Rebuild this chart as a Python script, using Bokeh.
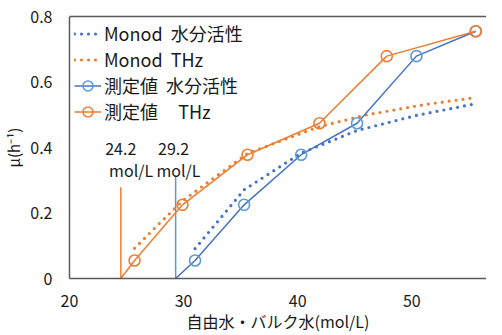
from bokeh.plotting import figure
from bokeh.models import (Range1d, FixedTicker, LinearAxis, Legend, LegendItem, Label)
from bokeh.embed import file_html
from bokeh.resources import INLINE

FONT = "Noto Sans CJK JP"
BLUE = "#4472C4"
BLUE_M = "#5B9BD5"
ORANGE = "#ED7D31"
NB = "\u00a0"

# measured values
thz_x = [25.7, 29.9, 35.6, 41.9, 47.8, 55.6]
aw_x = [31.0, 35.3, 40.3, 45.2, 50.4, 55.6]
mu_measured = [0.055, 0.225, 0.378, 0.474, 0.679, 0.755]

# Monod fits
monod_thz_x = [25.7, 27.7, 29.9, 35.6, 41.9, 46.1, 51.1, 55.5]
monod_thz_y = [0.092, 0.162, 0.237, 0.382, 0.464, 0.500, 0.531, 0.552]
monod_aw_x = [31.0, 33.2, 35.3, 40.3, 45.2, 50.4, 55.5]
monod_aw_y = [0.091, 0.183, 0.271, 0.383, 0.452, 0.498, 0.533]

# threshold lines
thr_thz = 24.5
thr_aw = 29.3
thr_thz_top = 0.279
thr_aw_top = 0.315
thr_labels = ["24.2", "29.2"]

x_ticks = [20, 30, 40, 50]
y_ticks = [0, 0.2, 0.4, 0.6, 0.8]
y_tick_labels = ["0", "0.2", "0.4", "0.6", "0.8"]

p = figure(width=486, height=335, output_backend="svg", toolbar_location=None,
           x_range=Range1d(20, 56.54), y_range=Range1d(0, 0.8),
           min_border_left=62, min_border_top=16, min_border_bottom=57, min_border_right=0)
p.outline_line_color = None
p.xgrid.visible = False
p.ygrid.visible = False

for ax in (p.xaxis[0], p.yaxis[0]):
    ax.axis_line_color = "#595959"
    ax.axis_line_width = 1.5
    ax.major_tick_out = 0
    ax.major_tick_in = 0
    ax.minor_tick_out = 0
    ax.minor_tick_in = 0
    ax.major_label_text_font = FONT
    ax.major_label_text_font_size = "16px"
    ax.major_label_text_color = "#1a1a1a"
    ax.axis_label_text_font = FONT
    ax.axis_label_text_font_style = "normal"
    ax.axis_label_text_color = "#1a1a1a"

p.xaxis[0].ticker = FixedTicker(ticks=x_ticks)
p.xaxis[0].major_label_standoff = 16
p.xaxis[0].axis_label = "自由水・バルク水(mol/L)"
p.xaxis[0].axis_label_text_font_size = "16px"
p.xaxis[0].axis_label_standoff = -1

p.yaxis[0].ticker = FixedTicker(ticks=y_ticks)
p.yaxis[0].major_label_overrides = {t: l for t, l in zip(y_ticks, y_tick_labels)}
p.yaxis[0].major_label_standoff = 17
p.yaxis[0].axis_label = "μ(h⁻¹)"
p.yaxis[0].axis_label_text_font_size = "15px"
p.yaxis[0].axis_label_standoff = 3

top = LinearAxis(ticker=FixedTicker(ticks=[]), major_label_text_font_size="0px",
                 major_tick_out=0, major_tick_in=0, minor_tick_out=0, minor_tick_in=0,
                 major_label_standoff=0, axis_line_color="#595959", axis_line_width=1.5)
p.add_layout(top, "above")

# threshold verticals
p.line([thr_thz, thr_thz], [thr_thz_top, 0], line_color=ORANGE, line_width=1.5)
p.line([thr_aw, thr_aw], [thr_aw_top, 0], line_color=BLUE_M, line_width=1.5)

# Monod dotted curves
r_maw = p.line(monod_aw_x, monod_aw_y, line_color=BLUE, line_width=3.2,
               line_dash="0 7", line_cap="round")
r_mthz = p.line(monod_thz_x, monod_thz_y, line_color=ORANGE, line_width=3.2,
                line_dash="0 7", line_cap="round")

# measured lines (starting from threshold at zero)
r_aw_l = p.line([thr_aw] + aw_x, [0] + mu_measured, line_color=BLUE, line_width=1.5)
r_aw_s = p.scatter(aw_x, mu_measured, marker="circle", size=11, line_color=BLUE_M,
                   line_width=1.6, fill_alpha=0)
r_thz_l = p.line([thr_thz] + thz_x, [0] + mu_measured, line_color=ORANGE, line_width=1.5)
r_thz_s = p.scatter(thz_x, mu_measured, marker="circle", size=11, line_color=ORANGE,
                    line_width=1.6, fill_alpha=0)

# threshold annotations
for txt, xc, yc in [(thr_labels[0], 24.49, 0.394), ("mol/L", 25.4, 0.331),
                    (thr_labels[1], 29.12, 0.394), ("mol/L", 29.55, 0.331)]:
    p.add_layout(Label(x=xc, y=yc, text=txt, text_font=FONT, text_font_size="16px",
                       text_align="center", text_baseline="middle", text_color="#1a1a1a"))

legend = Legend(items=[
    LegendItem(label="Monod" + NB * 2 + "水分活性", renderers=[r_maw]),
    LegendItem(label="Monod" + NB * 2 + "THz", renderers=[r_mthz]),
    LegendItem(label="測定値" + NB * 2 + "水分活性", renderers=[r_aw_l, r_aw_s]),
    LegendItem(label="測定値" + NB * 5 + "THz", renderers=[r_thz_l, r_thz_s]),
], location=(5, 154))
legend.border_line_color = None
legend.background_fill_alpha = 0
legend.label_text_font = FONT
legend.label_text_font_size = "18px"
legend.label_text_color = "#1a1a1a"
legend.glyph_width = 27
legend.glyph_height = 25
legend.label_height = 25
legend.spacing = 0
legend.padding = 4
legend.margin = 0
legend.label_standoff = 3
p.add_layout(legend, "center")

open("out.html", "w").write(file_html(p, INLINE))
